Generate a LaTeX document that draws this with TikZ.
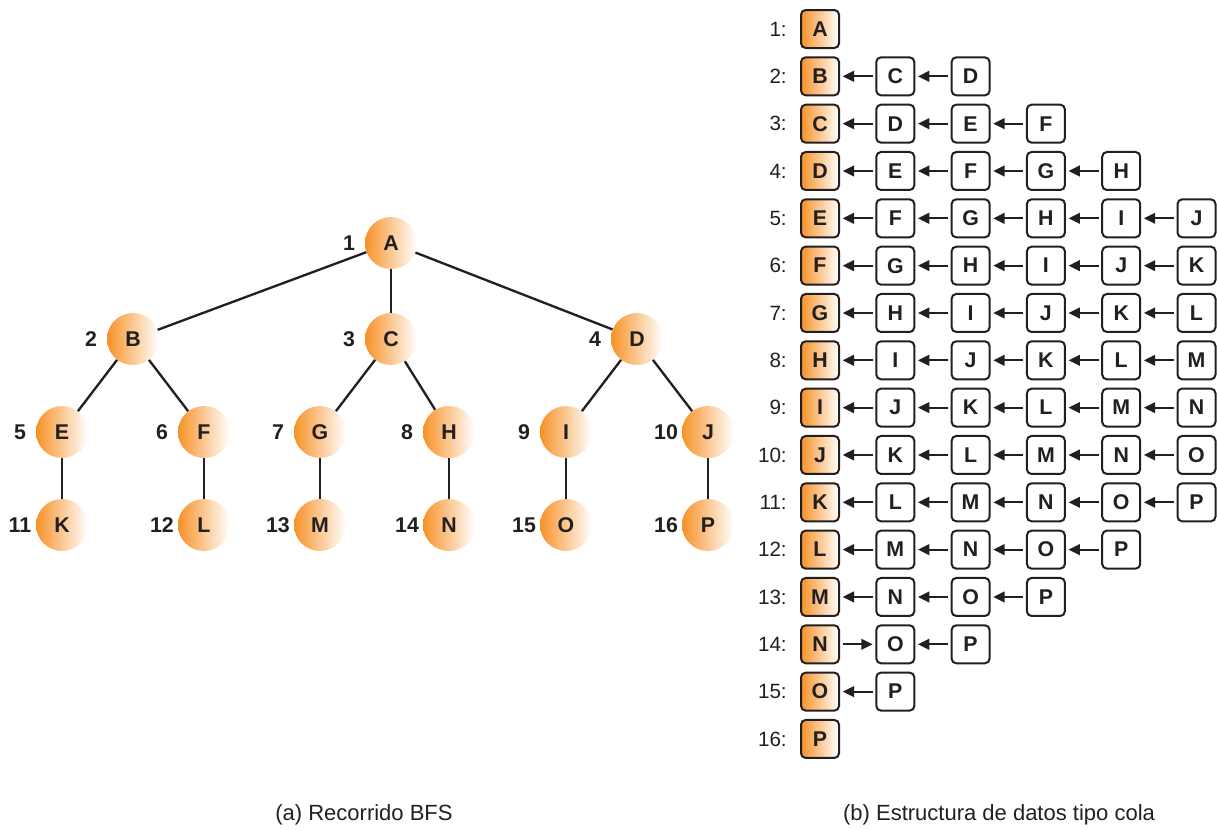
\documentclass[tikz,border=0pt]{standalone}
\usepackage{fontspec}
\setmainfont{Liberation Sans}
\usetikzlibrary{arrows.meta}
\definecolor{bfsorange}{RGB}{247,146,40}
\definecolor{ink}{RGB}{35,31,32}
\begin{document}
\begin{tikzpicture}[x=0.75pt,y=-0.75pt,
  treenode/.style={circle,minimum size=39pt,inner sep=0pt,left color=bfsorange,right color=white,
    font=\bfseries\fontsize{16}{18}\selectfont,text=ink},
  ordlabel/.style={font=\bfseries\fontsize{16}{18}\selectfont,text=ink,inner sep=0pt},
  treeedge/.style={draw=ink,line width=1.75pt},
  qbox/.style={draw=ink,line width=1.5pt,rounded corners=3.5pt,minimum size=28.5pt,inner sep=0pt,
    fill=white,font=\bfseries\fontsize{16}{18}\selectfont,text=ink},
  qhead/.style={qbox,left color=bfsorange,right color=white},
  qarrow/.style={draw=ink,line width=1.5pt,-{Triangle[length=8.5pt,width=8pt]},
    shorten >=2pt,shorten <=2pt},
  rowlabel/.style={anchor=east,font=\fontsize{15.5}{18}\selectfont,text=ink,inner sep=0pt},
  captiontext/.style={font=\fontsize{16.5}{19}\selectfont,text=ink}
]
\useasboundingbox (0,0) rectangle (1217,829);

% ---- BFS tree ----
\foreach \n/\x/\y/\k in {A/391/243/1, B/133/339/2, C/391/339/3, D/637/339/4,
    E/62/432/5, F/204/432/6, G/320/432/7, H/449/432/8, I/566/432/9, J/708/432/10,
    K/62/525/11, L/204/525/12, M/320/525/13, N/449/525/14, O/566/525/15, P/708/525/16}{
  \node[treenode] (t\n) at (\x,\y) {\n};
  \node[ordlabel] (o\n) at (\x-42,\y) {\k};
}
\foreach \a/\b in {A/B, A/C, A/D, B/E, B/F, C/G, C/H, D/I, D/J,
    E/K, F/L, G/M, H/N, I/O, J/P}{
  \draw[treeedge] (t\a) -- (t\b);
}

% ---- queue contents, one row per step ----
\foreach \row [count=\r] in {{A},{B,C,D},{C,D,E,F},{D,E,F,G,H},{E,F,G,H,I,J},
    {F,G,H,I,J,K},{G,H,I,J,K,L},{H,I,J,K,L,M},{I,J,K,L,M,N},{J,K,L,M,N,O},
    {K,L,M,N,O,P},{L,M,N,O,P},{M,N,O,P},{N,O,P},{O,P},{P}}{
  \pgfmathsetmacro\yy{29+(\r-1)*47.33}
  \node[rowlabel] (lab\r) at (787,\yy) {\r:};
  \foreach \item [count=\c] in \row {
    \pgfmathsetmacro\xx{820+(\c-1)*75.3}
    \ifnum\c=1
      \node[qhead] (q\r-\c) at (\xx,\yy) {\item};
    \else
      \node[qbox] (q\r-\c) at (\xx,\yy) {\item};
      \pgfmathtruncatemacro\p{\c-1}
      \ifnum\r=14 \ifnum\c=2
        \draw[qarrow] (q\r-\p) -- (q\r-\c);
      \else
        \draw[qarrow] (q\r-\c) -- (q\r-\p);
      \fi
      \else
        \draw[qarrow] (q\r-\c) -- (q\r-\p);
      \fi
    \fi
  }
}

% ---- captions ----
\node[captiontext] (capa) at (364,815) {(a) Recorrido BFS};
\node[captiontext] (capb) at (999,815) {(b) Estructura de datos tipo cola};
\end{tikzpicture}
\end{document}
